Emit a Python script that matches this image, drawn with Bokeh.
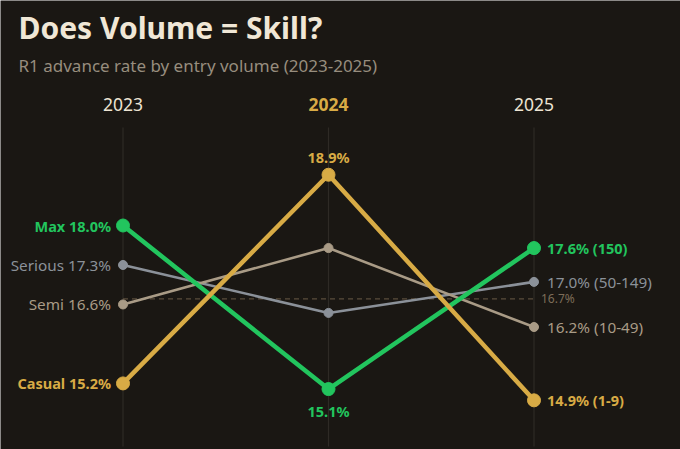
from bokeh.plotting import figure
from bokeh.models import Label, Range1d
from bokeh.core.properties import value
from bokeh.embed import file_html
from bokeh.resources import INLINE

years = ["2023", "2024", "2025"]
series_names = ["Max", "Serious", "Semi", "Casual"]
volume_labels = ["150", "50-149", "10-49", "1-9"]
max_vals = [18.0, 15.1, 17.6]
serious_vals = [17.3, 16.45, 17.0]
semi_vals = [16.6, 17.6, 16.2]
casual_vals = [15.2, 18.9, 14.9]
average_val = 16.7

BG = "#1a1713"
GREEN = "#22c55e"
GOLD = "#d8ab45"
GRAY = "#8b9199"
TAN = "#a99b86"
FONT = "Noto Sans"

W, H = 680, 449
X0_PX, DX_PX = 122.5, 205.5     # pixel of first column and spacing
Y_REF_PX, Y_REF_VAL, PX_PER = 225.0, 18.0, 56.4

x_start = -X0_PX / DX_PX
x_end = x_start + W / DX_PX
y_top = Y_REF_VAL + Y_REF_PX / PX_PER
y_bot = y_top - H / PX_PER

def y_at(px):
    return y_top - px / PX_PER

p = figure(width=W, height=H, output_backend="svg", toolbar_location=None,
           x_range=Range1d(x_start, x_end), y_range=Range1d(y_bot, y_top),
           min_border=0, background_fill_color=BG, border_fill_color=BG)
p.axis.visible = False
p.grid.visible = False
p.outline_line_color = None

xs = list(range(len(years)))

# vertical column lines
p.segment(x0=xs, x1=xs, y0=[y_at(127)] * 3, y1=[y_at(446)] * 3,
          line_color="#2e2a25", line_width=1.2)

# average dashed line
p.line([xs[0], xs[-1]], [average_val, average_val], line_color="#5a4d3c",
       line_width=1.2, line_dash="5 4")
p.text(x=[xs[-1]], y=[average_val], text=[f"{average_val:.1f}%"],
       x_offset=7, text_font=value(FONT), text_font_size="12px",
       text_color="#7d6d58", text_baseline="middle", text_align="left")

styles = [
    (max_vals, GREEN, 4.5, 13, "bold", "14.5px"),
    (serious_vals, GRAY, 2.6, 9, "normal", "15.3px"),
    (semi_vals, TAN, 2.6, 9, "normal", "15.3px"),
    (casual_vals, GOLD, 4.5, 13, "bold", "14.5px"),
]
order = [1, 2, 0, 3]
for i in order:
    vals, col, lw, sz, weight, fs = styles[i]
    p.line(xs, vals, line_color=col, line_width=lw)
    p.scatter(xs, vals, size=sz, fill_color=col, line_color=col)

# end labels
for i, (vals, col, lw, sz, weight, fs) in enumerate(styles):
    p.text(x=[xs[0]], y=[vals[0]], text=[f"{series_names[i]} {vals[0]:.1f}%"],
           x_offset=-12, text_font=value(FONT), text_font_size=fs,
           text_font_style=weight, text_color=col,
           text_baseline="middle", text_align="right")
    p.text(x=[xs[-1]], y=[vals[-1]], text=[f"{vals[-1]:.1f}% ({volume_labels[i]})"],
           x_offset=13, text_font=value(FONT), text_font_size=fs,
           text_font_style=weight, text_color=col,
           text_baseline="middle", text_align="left")

# middle labels for the strong series
p.text(x=[xs[1]], y=[casual_vals[1]], text=[f"{casual_vals[1]:.1f}%"],
       y_offset=-18, text_font=value(FONT), text_font_size="14.5px",
       text_font_style="bold", text_color=GOLD, text_baseline="middle",
       text_align="center")
p.text(x=[xs[1]], y=[max_vals[1]], text=[f"{max_vals[1]:.1f}%"],
       y_offset=22, text_font=value(FONT), text_font_size="14.5px",
       text_font_style="bold", text_color=GREEN, text_baseline="middle",
       text_align="center")

# year headers
year_cols = ["#ede4d3", GOLD, "#ede4d3"]
year_weights = ["normal", "bold", "normal"]
for k, yr in enumerate(years):
    p.text(x=[xs[k]], y=[y_at(104)], text=[yr], text_font=value(FONT),
           text_font_size="17.5px", text_font_style=year_weights[k],
           text_color=year_cols[k], text_baseline="middle", text_align="center")

p.add_layout(Label(x=18, y=H - 27, x_units="screen", y_units="screen",
                   text="Does Volume = Skill?", text_font=FONT,
                   text_font_size="30px", text_font_style="bold",
                   text_color="#f0e7d6", text_baseline="middle"))
p.add_layout(Label(x=18, y=H - 65, x_units="screen", y_units="screen",
                   text="R1 advance rate by entry volume (2023-2025)",
                   text_font=FONT, text_font_size="17px",
                   text_color="#978d7e", text_baseline="middle"))

open("out.html", "w").write(file_html(p, INLINE))
